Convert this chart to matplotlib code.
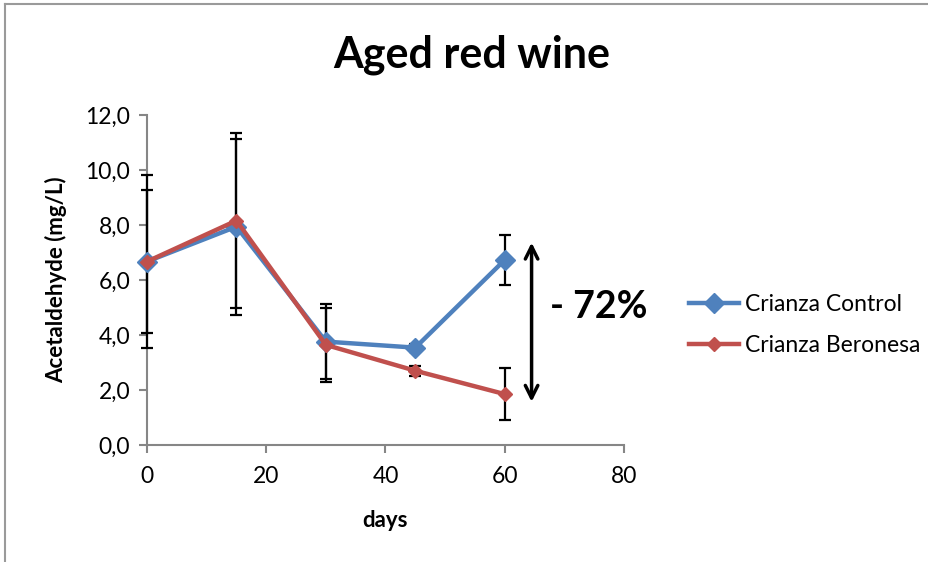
import matplotlib
matplotlib.use("Agg")
import matplotlib.pyplot as plt
from matplotlib.lines import Line2D
from matplotlib.ticker import FuncFormatter

plt.rcParams['font.family'] = ['Lato', 'DejaVu Sans']

days = [0, 15, 30, 45, 60]
control = [6.67, 7.94, 3.76, 3.54, 6.73]
control_err = [3.15, 3.2, 1.37, 0.15, 0.92]
beronesa = [6.67, 8.16, 3.64, 2.70, 1.85]
beronesa_err = [2.6, 3.17, 1.36, 0.18, 0.95]
series_names = ["Crianza Control", "Crianza Beronesa"]
title = "Aged red wine"
xlabel = "days"
ylabel = "Acetaldehyde (mg/L)"
annot_text = "- 72%"

blue = "#4F81BD"
red = "#C0504D"
spine_c = "#868686"

fig = plt.figure(figsize=(9.29, 5.62), dpi=100)
ax = fig.add_axes([147/929, (562-445)/562, (624-147)/929, (445-115)/562])

for vals, errs in [(control, control_err), (beronesa, beronesa_err)]:
    eb = ax.errorbar(days, vals, yerr=errs, fmt='none', ecolor='black',
                     elinewidth=1.6, capsize=4.5, capthick=1.6, zorder=3)
    for art in list(eb.lines[1]) + list(eb.lines[2]):
        art.set_clip_on(False)
l1, = ax.plot(days, control, color=blue, lw=3.2, marker='D', ms=10,
              mfc=blue, mec=blue, zorder=4, clip_on=False, label=series_names[0])
l2, = ax.plot(days, beronesa, color=red, lw=3.2, marker='D', ms=7,
              mfc=red, mec=red, zorder=5, clip_on=False, label=series_names[1])

ax.set_xlim(0, 80)
ax.set_ylim(0, 12)
ax.set_xticks([0, 20, 40, 60, 80])
ax.set_yticks([0, 2, 4, 6, 8, 10, 12])
ax.yaxis.set_major_formatter(FuncFormatter(lambda v, p: f"{v:.1f}".replace('.', ',')))
for s in ['top', 'right']:
    ax.spines[s].set_visible(False)
for s in ['left', 'bottom']:
    ax.spines[s].set_color(spine_c)
    ax.spines[s].set_linewidth(1.5)
    ax.spines[s].set_zorder(1)
ax.tick_params(axis='both', direction='out', length=6, width=1.5, color=spine_c,
               labelsize=16.5, labelcolor='black')
ax.tick_params(axis='y', pad=6)
ax.tick_params(axis='x', pad=9)

ax.set_xlabel(xlabel, fontsize=16, fontweight='bold')
ax.set_ylabel(ylabel, fontsize=16, fontweight='bold')
ax.xaxis.set_label_coords(0.5, (445-510)/330)
ax.yaxis.set_label_coords((67-147)/477, 0.5)
fig.text(472/929, 1 - 55/562, title, fontsize=31, fontweight='bold',
         ha='center', va='center')

ax.annotate('', xy=(64.5, 1.57), xytext=(64.5, 7.36),
            arrowprops=dict(arrowstyle='<->,head_length=0.9,head_width=0.45',
                            color='black', lw=2.5, shrinkA=0, shrinkB=0),
            annotation_clip=False)
ax.text(75.7, 5.0, annot_text, fontsize=27, fontweight='bold',
        ha='center', va='center', clip_on=False)

fig.legend(handles=[l1, l2], labels=series_names, loc='center left',
           bbox_to_anchor=(668/929, 1 - 325/562), frameon=False, fontsize=16.5,
           handlelength=2.2, handletextpad=0.25, labelspacing=0.9)

fig.add_artist(Line2D([5/929, 5/929], [0, 1 - 4/562], color='#9A9A9A', lw=1.5,
                      transform=fig.transFigure))
fig.add_artist(Line2D([5/929, 1], [1 - 4/562, 1 - 4/562], color='#9A9A9A', lw=1.5,
                      transform=fig.transFigure))

fig.savefig("out.png", dpi=100)
